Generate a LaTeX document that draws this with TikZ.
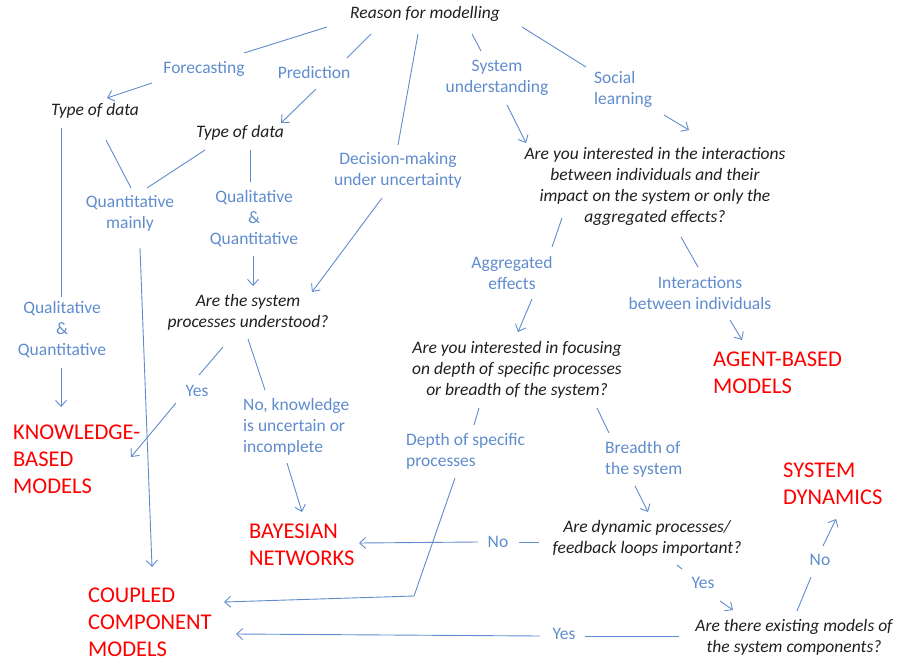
\documentclass[tikz,border=0pt]{standalone}
\usepackage{fontspec}
\setmainfont{Carlito}
\usetikzlibrary{arrows.meta}
\definecolor{linkblue}{RGB}{95,140,205}
\definecolor{modelred}{RGB}{255,0,0}
\begin{document}
\begin{tikzpicture}[x=1pt,y=-1pt,
  question/.style={font=\fontsize{17.5}{21}\selectfont\itshape, text=black!88, align=center, inner sep=0pt},
  choice/.style={font=\fontsize{17.5}{21}\selectfont, text=linkblue, align=center, inner sep=0pt},
  choiceleft/.style={choice, align=left, anchor=west},
  model/.style={font=\fontsize{22.5}{27}\selectfont, text=modelred, align=left, anchor=west, inner sep=0pt},
  link/.style={draw=linkblue, line width=0.9pt},
  arrowlink/.style={link, -{Straight Barb[length=6pt,width=11pt]}}]

\useasboundingbox (0,0) rectangle (897,661);

% ---- questions
\node[question] (reason) at (425,14) {Reason for modelling};
\node[question] (type1) at (95,111) {Type of data};
\node[question] (type2) at (240,133) {Type of data};
\node[question] (interact) at (655,186) {Are you interested in the interactions\\between individuals and their\\impact on the system or only the\\aggregated effects?};
\node[question] (understood) at (248,312) {Are the system\\processes understood?};
\node[question] (focus) at (517,370) {Are you interested in focusing\\on depth of specific processes\\or breadth of the system?};
\node[question] (dyn) at (647,538) {Are dynamic processes/\\feedback loops important?};
\node[question] (exist) at (794,637) {Are there existing models of\\the system components?};

% ---- answers
\node[choice] (forecast) at (204,69) {Forecasting};
\node[choice] (predict) at (314,72) {Prediction};
\node[choice] (decision) at (398,170) {Decision-making\\under uncertainty};
\node[choice] (sysund) at (497,78) {System\\understanding};
\node[choiceleft] (social) at (594,89) {Social\\learning};
\node[choice] (quantm) at (130,213) {Quantitative\\mainly};
\node[choice] (qq2) at (254,219) {Qualitative\\\&\\Quantitative};
\node[choice] (qq1) at (62,330) {Qualitative\\\&\\Quantitative};
\node[choice] (yes1) at (197,391) {Yes};
\node[choiceleft] (noknow) at (243,427) {No, knowledge\\is uncertain or\\incomplete};
\node[choice] (aggr) at (512,273) {Aggregated\\effects};
\node[choice] (interind) at (700,293) {Interactions\\between individuals};
\node[choiceleft] (depth) at (406,451) {Depth of specific\\processes};
\node[choiceleft] (breadth) at (605,459) {Breadth of\\the system};
\node[choice] (no1) at (498,542) {No};
\node[choice] (yes2) at (703,583) {Yes};
\node[choice] (no2) at (820,560) {No};
\node[choice] (yes3) at (564,634) {Yes};

% ---- model types
\node[model] (kbm) at (13,459) {KNOWLEDGE-\\BASED\\MODELS};
\node[model] (abm) at (713,373) {AGENT-BASED\\MODELS};
\node[model] (sd) at (783,484) {SYSTEM\\DYNAMICS};
\node[model] (bn) at (249,545) {BAYESIAN\\NETWORKS};
\node[model] (ccm) at (88,622) {COUPLED\\COMPONENT\\MODELS};

% ---- connectors
\draw[link] ([shift={(-98,13)}]reason.center) -- ([shift={(40,-16)}]forecast.center);
\draw[arrowlink] ([shift={(-52,14)}]forecast.center) -- ([shift={(12,-13)}]type1.center);
\draw[link] ([shift={(-54,20)}]reason.center) -- ([shift={(33,-14)}]predict.center);
\draw[arrowlink] ([shift={(2,17)}]predict.center) -- ([shift={(41,-10)}]type2.center);
\draw[link] ([shift={(-7,20)}]reason.center) -- ([shift={(0,-25)}]decision.center);
\draw[link] ([shift={(-34,17)}]type1.center) -- ([shift={(-1,-33)}]qq1.center);
\draw[arrowlink] ([shift={(-1,38)}]qq1.center) -- ([shift={(48,-52)}]kbm.west);
\draw[link] ([shift={(11,29)}]type1.center) -- ([shift={(1,-25)}]quantm.center);
\draw[link] ([shift={(-35,17)}]type2.center) -- ([shift={(17,-25)}]quantm.center);
\draw[link] ([shift={(10,17)}]type2.center) -- ([shift={(-4,-37)}]qq2.center);
\draw[arrowlink] ([shift={(-1,37)}]qq2.center) -- ([shift={(5,-26)}]understood.center);
\draw[arrowlink] ([shift={(-16,28)}]decision.center) -- ([shift={(64,-20)}]understood.center);
\draw[arrowlink] ([shift={(10,35)}]quantm.center) -- ([shift={(64,-55)}]ccm.west);
\draw[link] ([shift={(-25,35)}]understood.center) -- ([shift={(2,-16)}]yes1.center);
\draw[arrowlink] ([shift={(-21,12)}]yes1.center) -- ([shift={(118,-2)}]kbm.west);
\draw[link] ([shift={(0,27)}]understood.center) -- ([shift={(22,-37)}]noknow.west);
\draw[arrowlink] ([shift={(44,36)}]noknow.west) -- ([shift={(53,-33)}]bn.west);
\draw[link] ([shift={(47,20)}]reason.center) -- ([shift={(-16,-27)}]sysund.center);
\draw[arrowlink] ([shift={(10,27)}]sysund.center) -- ([shift={(-129,-43)}]interact.center);
\draw[link] ([shift={(97,13)}]reason.center) -- ([shift={(-8,-22)}]social.west);
\draw[arrowlink] ([shift={(70,26)}]social.west) -- ([shift={(34,-56)}]interact.center);
\draw[link] ([shift={(-93,32)}]interact.center) -- ([shift={(40,-26)}]aggr.center);
\draw[link] ([shift={(26,51)}]interact.center) -- ([shift={(-2,-26)}]interind.center);
\draw[arrowlink] ([shift={(30,27)}]interind.center) -- ([shift={(29,-33)}]abm.west);
\draw[arrowlink] ([shift={(20,26)}]aggr.center) -- ([shift={(1,-38)}]focus.center);
\draw[link] ([shift={(-38,38)}]focus.center) -- ([shift={(68,-26)}]depth.west);
\draw[link] ([shift={(80,38)}]focus.center) -- ([shift={(4,-26)}]breadth.west);
\draw[arrowlink] ([shift={(30,27)}]breadth.west) -- ([shift={(1,-26)}]dyn.center);
\draw[arrowlink] ([shift={(49,27)}]depth.west) -- ([shift={(8,145)}]depth.west) -- ([shift={(136,-20)}]ccm.west);
\draw[link] ([shift={(-108,4)}]dyn.center) -- ([shift={(21,0)}]no1.center);
\draw[arrowlink] ([shift={(-20,0)}]no1.center) -- ([shift={(110,-2)}]bn.west);
\draw[link] ([shift={(30,27)}]dyn.center) -- ([shift={(-21,-14)}]yes2.center);
\draw[arrowlink] ([shift={(17,18)}]yes2.center) -- ([shift={(-61,-27)}]exist.center);
\draw[link] ([shift={(3,-26)}]exist.center) -- ([shift={(-9,17)}]no2.center);
\draw[arrowlink] ([shift={(3,-14)}]no2.center) -- ([shift={(53,35)}]sd.west);
\draw[link] ([shift={(-115,-1)}]exist.center) -- ([shift={(21,2)}]yes3.center);
\draw[arrowlink] ([shift={(-24,2)}]yes3.center) -- ([shift={(148,12)}]ccm.west);
\end{tikzpicture}
\end{document}
